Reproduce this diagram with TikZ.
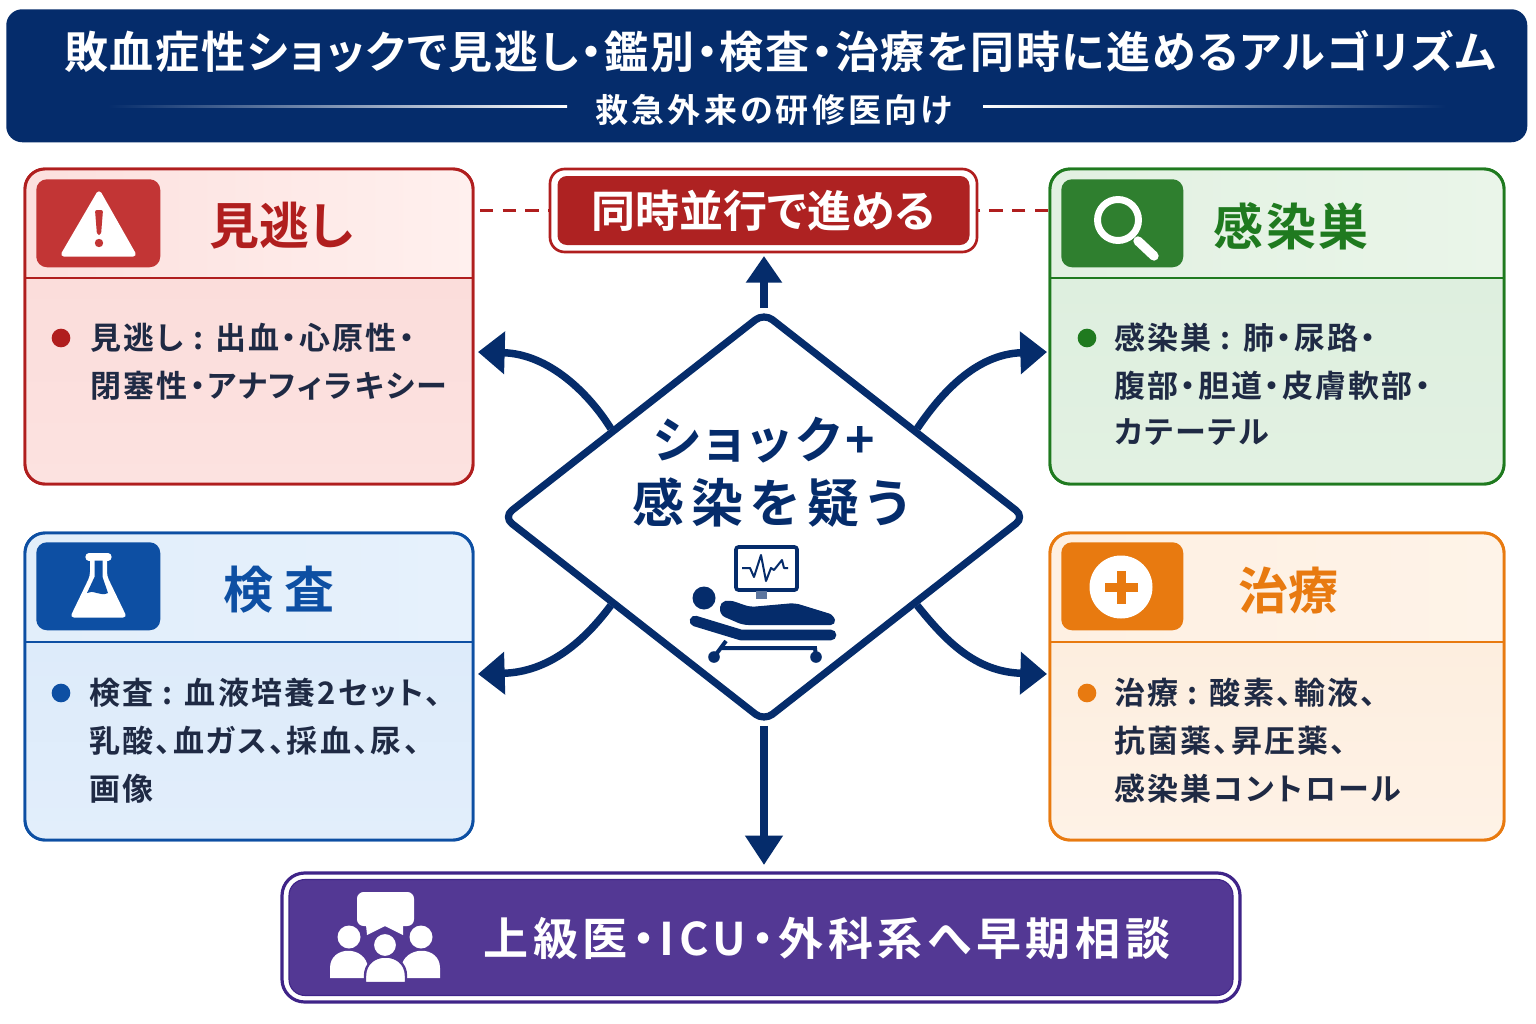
\documentclass[tikz,border=0pt]{standalone}
\usepackage{fontspec}
\usetikzlibrary{shapes.geometric,arrows.meta,calc}
\setmainfont{Noto Sans CJK JP}[BoldFont={* Bold},RawFeature={+palt}]
\newcommand{\fsz}[1]{\fontsize{\the\dimexpr#1pt*3/4\relax}{\the\dimexpr#1pt\relax}\selectfont}
\newcommand{\lsp}[1]{\addfontfeature{LetterSpace=#1}}
\definecolor{navy}{HTML}{052C6B}
\definecolor{cred}{HTML}{B01E1E}
\definecolor{credicon}{HTML}{C23535}
\definecolor{credpar}{HTML}{AE2222}
\definecolor{cgreen}{HTML}{1F7A1F}
\definecolor{cgreenicon}{HTML}{2F7F2F}
\definecolor{cblue}{HTML}{0D4FA3}
\definecolor{corange}{HTML}{E87A10}
\definecolor{cpurple}{HTML}{533894}
\definecolor{dpurple}{HTML}{3F2488}
\definecolor{inktext}{HTML}{1F2A44}
\definecolor{rh1}{HTML}{FCE0DE}\definecolor{rh2}{HTML}{FFF0EE}\definecolor{rb1}{HTML}{FBDDDB}\definecolor{rb2}{HTML}{FCE2E0}
\definecolor{gh1}{HTML}{E2F1E2}\definecolor{gh2}{HTML}{EAF5E9}\definecolor{gb1}{HTML}{DEEFDF}\definecolor{gb2}{HTML}{E2F1E2}
\definecolor{bh1}{HTML}{E2EEFA}\definecolor{bh2}{HTML}{E6F1FC}\definecolor{bb1}{HTML}{DDEBFA}\definecolor{bb2}{HTML}{E2EEFB}
\definecolor{oh1}{HTML}{FEF0E2}\definecolor{oh2}{HTML}{FEF3E8}\definecolor{ob1}{HTML}{FDEEDF}\definecolor{ob2}{HTML}{FEF2E6}
\tikzset{
 x=0.75pt,y=-0.75pt,
 cardbox/.style={draw=#1,line width=2.2pt,rounded corners=15pt,inner sep=0,outer sep=0,anchor=north west,fill=white},
 iconbox/.style={fill=#1,rounded corners=8pt,inner sep=0,anchor=north west,minimum width=93pt,minimum height=66pt},
 headtext/.style={text=#1,font=\bfseries\fsz{50},inner sep=0},
 bodytext/.style={text=inktext,font=\bfseries\fsz{31}\lsp{7},inner sep=0,anchor=west},
 bulletdot/.style={circle,fill=#1,minimum size=14pt,inner sep=0},
 flowline/.style={draw=navy,line width=5.6pt},
 sidehead/.style={-{Triangle[length=20pt,width=31pt]}},
 tophead/.style={-{Triangle[length=20pt,width=26pt]}},
 linkdash/.style={draw=cred,line width=2.4pt,dash pattern=on 10pt off 7pt},
}
% name, colour, x, y, w, h, divider y, colour tag
\newcommand{\card}[8]{%
 \node[cardbox=#2,minimum width=#5,minimum height=#6] (#1) at (#3,#4) {};
 \begin{scope}
 \clip[rounded corners=15pt] (#1.north west) rectangle (#1.south east);
 \fill[left color=#8h1,right color=#8h2] (#1.north west) rectangle (#1.east |- 0,#7);
 \fill[top color=#8b1,bottom color=#8b2] (#1.west |- 0,#7) rectangle (#1.south east);
 \end{scope}
 \draw[#2,line width=2.2pt,rounded corners=15pt] (#1.north west) rectangle (#1.south east);
 \draw[#2,line width=2pt] (#1.west |- 0,#7) -- (#1.east |- 0,#7);
}
\begin{document}
\begin{tikzpicture}
\useasboundingbox (0,0) rectangle (1536,1024);
\fill[white] (0,0) rectangle (1536,1024);
% title band
\node[fill=navy,rounded corners=12pt,anchor=north west,minimum width=1140.75pt,minimum height=99.75pt,inner sep=0] (titlebar) at (6,9) {};
\node[text=white,font=\bfseries\fsz{44},inner sep=0] (titletext) at (780,52) {\lsp{4}敗血症性ショックで見逃し・鑑別・検査・治療を同時に進めるアルゴリズム};
\node[text=white,font=\bfseries\fsz{33},inner sep=0] (subtitle) at (774,110) {\lsp{9.5}救急外来の研修医向け};
\shade[left color=navy,right color=white] (108,105.5) rectangle (567,107.5);
\shade[left color=white,right color=navy] (983,105.5) rectangle (1446,107.5);

% cards
\card{redbox}{cred}{25}{169}{336pt}{236.25pt}{278}{r}
\card{greenbox}{cgreen}{1050}{169}{340.5pt}{236.25pt}{278}{g}
\card{bluebox}{cblue}{25}{533}{336pt}{230.25pt}{642}{b}
\card{orangebox}{corange}{1050}{533}{340.5pt}{230.25pt}{642}{o}

% icon tiles
\node[iconbox=credicon] (redicon) at (36,179) {};
\node[iconbox=cgreenicon,minimum width=91.5pt] (greenicon) at (1061,179) {};
\node[iconbox=cblue] (blueicon) at (36,542) {};
\node[iconbox=corange,minimum width=91.5pt] (orangeicon) at (1061,542) {};

% warning
\fill[white,draw=white,line width=4pt,line join=round] (99,194) -- (133,254) -- (64,254) -- cycle;
\fill[credicon,rounded corners=1.5pt] (95,210) -- (103,210) -- (101,235) -- (97,235) -- cycle;
\fill[credicon] (99,243) circle (4.2);
% magnifier
\draw[white,line width=5.2pt] (1118,220) circle (20.5);
\draw[white,line width=7pt,line cap=round] (1138,241) -- (1154,256);
% flask
\fill[white,rounded corners=3pt] (90,556) -- (90,576) -- (70,617.5) -- (127,617.5) -- (107,576) -- (107,556) -- cycle;
\draw[white,line width=5.5pt,line cap=round] (89,557) -- (108,557);
\fill[cblue] (94.5,560.5) -- (102.5,560.5) -- (102.5,577) -- (108,593) .. controls (100,597) and (93,589) .. (87,593) -- (94.5,577) -- cycle;
% plus
\fill[white] (1121,587) circle (31.5);
\fill[corange] (1116.5,571) rectangle (1125.5,603.5);
\fill[corange] (1105,583) rectangle (1137.5,592);

% header texts
\node[headtext=cred] (redhead) at (281,226) {見逃し};
\node[headtext=cgreen] (greenhead) at (1291,226) {\lsp{5}感染巣};
\node[headtext=cblue] (bluehead) at (279,590) {検\hspace{8pt}査};
\node[headtext=corange] (orangehead) at (1288,590) {治療};

% bullets
\node[bulletdot=cred] (reddot) at (61,338) {};
\node[bulletdot=cgreen] (greendot) at (1087,338) {};
\node[bulletdot=cblue] (bluedot) at (61,693) {};
\node[bulletdot=corange] (orangedot) at (1087,693) {};

% body texts
\node[bodytext] (redA) at (90,338) {見逃し : 出血・心原性・};
\node[bodytext] (redB) at (90,386) {閉塞性・アナフィラキシー};
\node[bodytext] (greenA) at (1114,338) {感染巣 : 肺・尿路・};
\node[bodytext] (greenB) at (1114,386) {腹部・胆道・皮膚軟部・};
\node[bodytext] (greenC) at (1114,432) {カテーテル};
\node[bodytext] (blueA) at (89,693) {検査 : 血液培養2セット、};
\node[bodytext] (blueB) at (89,741) {乳酸、血ガス、採血、尿、};
\node[bodytext] (blueC) at (89,789) {画像};
\node[bodytext] (orangeA) at (1114,693) {治療 : 酸素、輸液、};
\node[bodytext] (orangeB) at (1114,741) {抗菌薬、昇圧薬、};
\node[bodytext] (orangeC) at (1114,789) {感染巣コントロール};

% parallel banner
\node[draw=cred,line width=2pt,fill=white,rounded corners=11pt,anchor=north west,minimum width=320.25pt,minimum height=62.25pt,inner sep=0,outer sep=0] (parbox) at (550,169) {};
\node[fill=credpar,rounded corners=7pt,minimum width=309pt,minimum height=51.75pt,inner sep=0,text=white,font=\bfseries\fsz{44}] (partext) at (parbox.center) {同時並行で進める};
\draw[linkdash] (redbox.east |- partext) ++(7,0) -- (parbox.west |- partext);
\draw[linkdash] (greenbox.west |- partext) ++(-2,0) -- (parbox.east |- partext);

% consult banner
\node[draw=dpurple,line width=2.4pt,fill=white,rounded corners=17pt,anchor=north west,minimum width=718.5pt,minimum height=96.75pt,inner sep=0,outer sep=0] (consult) at (282,873) {};
\node[fill=cpurple,draw=dpurple,line width=.8pt,rounded corners=12pt,minimum width=708pt,minimum height=87pt,inner sep=0] (consultin) at (consult.center) {};
\node[text=white,font=\bfseries\fsz{45},inner sep=0] (consulttext) at (827,938) {\lsp{10.5}上級医・ICU・外科系へ早期相談};
% people icon
\fill[white,rounded corners=5pt] (357,892) rectangle (414,926);
\fill[white] (366,925) -- (367,935) -- (385,926) -- (403,935) -- (403,925) -- cycle;
\fill[white] (349,937) circle (11.5);
\fill[white] (421,937) circle (11.5);
\fill[white] (330,978) -- (330,968) .. controls (330,945) and (366,945) .. (368,968) -- (365,978) -- cycle;
\fill[white] (403,978) -- (401,968) .. controls (404,945) and (440,945) .. (440,968) -- (440,978) -- cycle;
\fill[white,draw=cpurple,line width=1.8pt] (365,983) -- (365,976) .. controls (365,950) and (406,950) .. (406,976) -- (406,983) -- cycle;
\fill[white,draw=cpurple,line width=1.5pt] (385,945) circle (12);

% central decision diamond
\node[diamond,draw=navy,fill=white,line width=5.4pt,line join=round,rounded corners=8pt,minimum width=393pt,minimum height=308pt,inner sep=0] (dia) at (764,517) {};
\node[text=navy,font=\bfseries\fsz{50},inner sep=0] (diaA) at (764,440) {\lsp{9}ショック+};
\node[text=navy,font=\bfseries\fsz{52},inner sep=0] (diaB) at (771,503) {\lsp{13}感染を疑う};
% monitor
\draw[navy,line width=2.8pt,fill=white,rounded corners=2pt] (736,547) rectangle (797,590);
\fill[navy!65] (756,591) rectangle (767,599);
\draw[navy,line width=1.5pt,line join=round] (742,568) -- (750,568) -- (754,577) -- (761,555) -- (766,581) -- (771,568) -- (774,570) -- (782,560) -- (784,568) -- (788,568);
% patient
\fill[navy] (704,598) circle (11.5);
\fill[navy,rounded corners=4pt] (720,602) -- (730,600) -- (750,607) -- (795,603) -- (834,615) -- (836,625) -- (743,625) -- (720,615) -- cycle;
\draw[navy,line width=8pt,line cap=round,line join=round] (695,621) -- (741,635) -- (831,635);
\draw[navy,line width=3pt] (726,641) -- (714,657) (720,648) -- (815,648) -- (816,657);
\fill[navy] (714,657) circle (5.8) (816,657) circle (5.8);

% connectors
\draw[flowline,tophead] (dia.north) -- ([yshift=-3pt]dia.north |- parbox.south);
\draw[flowline,-{Triangle[length=22pt,width=27pt]},line width=6.6pt] (dia.south) -- ([yshift=6pt]dia.south |- consult.north);
\coordinate (toRed) at (478,352);
\coordinate (toGreen) at (1047,352);
\coordinate (toBlue) at (478,674);
\coordinate (toOrange) at (1047,674);
\draw[flowline,sidehead] (dia.150) .. controls (590,395) and (550,354) .. (toRed);
\draw[flowline,sidehead] (dia.30) .. controls (940,395) and (975,354) .. (toGreen);
\draw[flowline,sidehead] (dia.210) .. controls (585,640) and (550,672) .. (toBlue);
\draw[flowline,sidehead] (dia.330) .. controls (945,640) and (975,672) .. (toOrange);
\end{tikzpicture}
\end{document}
